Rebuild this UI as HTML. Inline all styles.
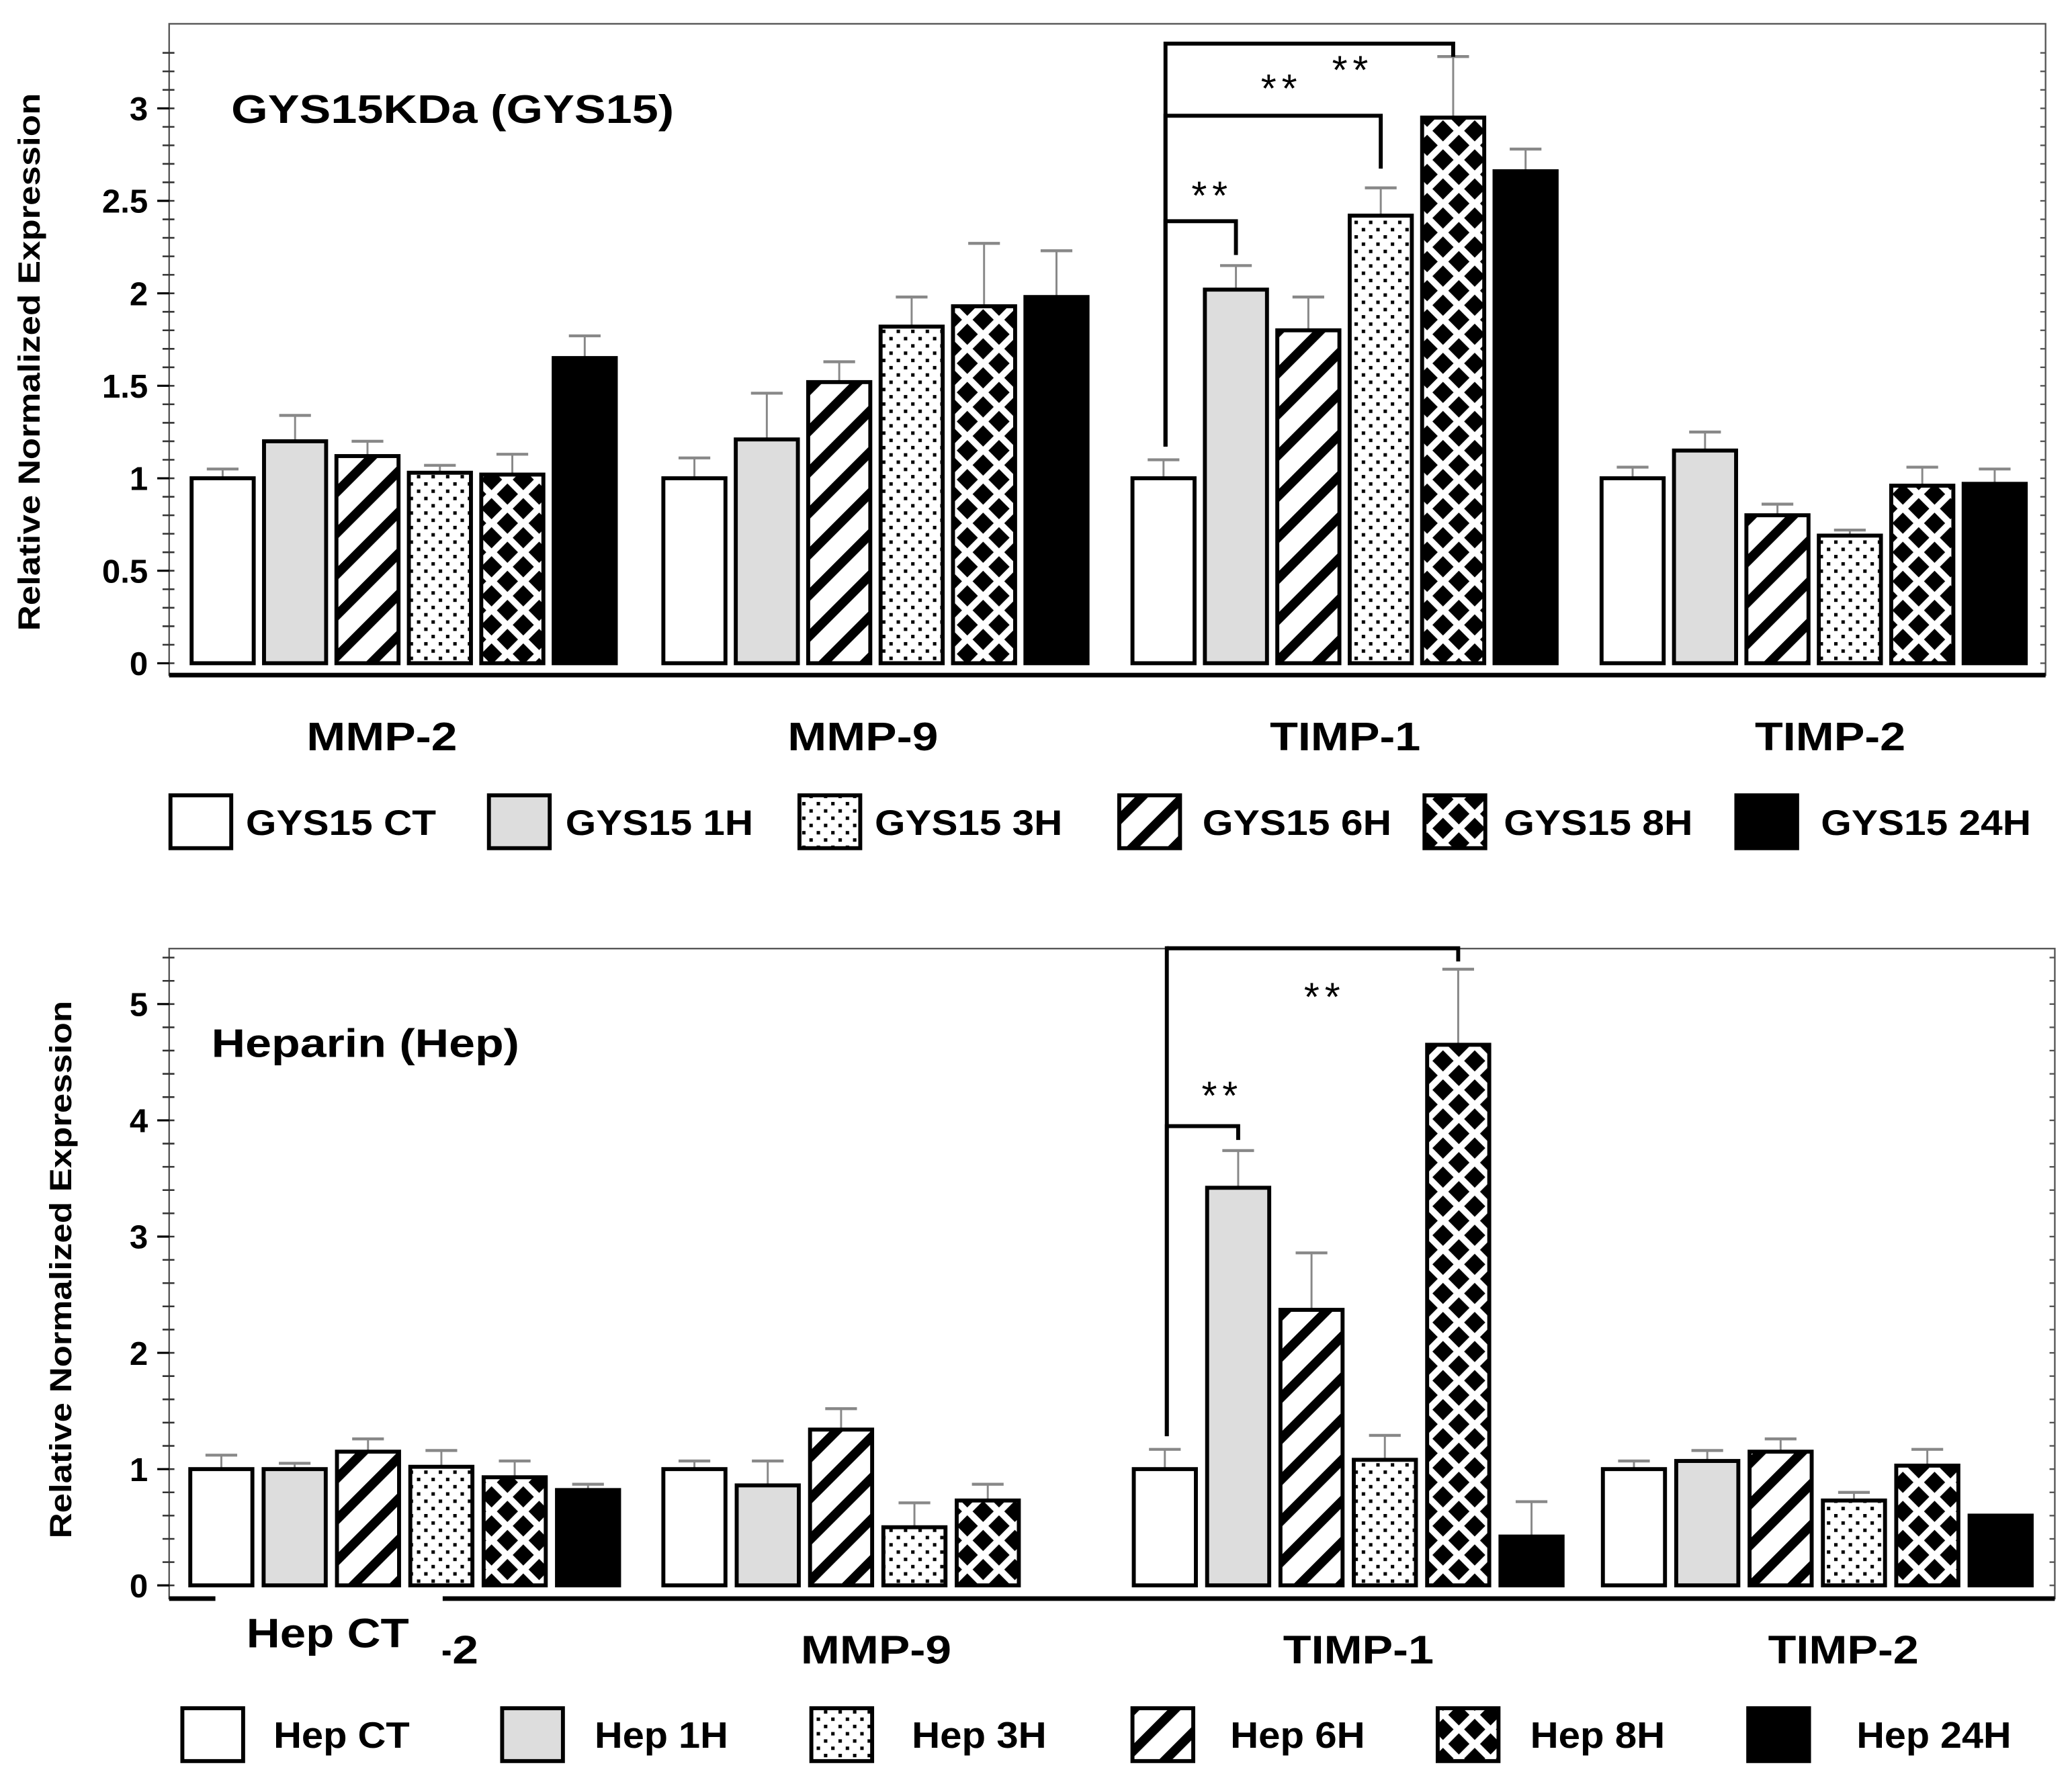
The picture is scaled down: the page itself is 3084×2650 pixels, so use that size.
<!DOCTYPE html>
<html><head><meta charset="utf-8"><style>
html,body{margin:0;padding:0;background:#fff}
svg{display:block}
text{font-family:"Liberation Sans",Arial,sans-serif;font-weight:bold;fill:#000}
</style></head><body>
<svg id="fig" xmlns="http://www.w3.org/2000/svg" width="3084" height="2650" viewBox="0 0 1568 1347.3">
<defs>
<pattern id="pStripe" patternUnits="userSpaceOnUse" width="22" height="22" patternTransform="rotate(45)"><rect width="22" height="22" fill="#fff"/><rect x="0" y="0" width="7" height="22" fill="#000"/></pattern>
<pattern id="pDots" patternUnits="userSpaceOnUse" width="11" height="11"><rect width="11" height="11" fill="#fff"/><rect x="2" y="2" width="2.6" height="2.6" fill="#000"/><rect x="7.5" y="7.5" width="2.6" height="2.6" fill="#000"/></pattern>
<pattern id="pDiam" patternUnits="userSpaceOnUse" width="24" height="22"><rect width="24" height="22" fill="#fff"/><polygon points="12,3 20,11 12,19 4,11" fill="#000"/><polygon points="0,-8 8,0 0,8 -8,0" fill="#000"/><polygon points="24,-8 32,0 24,8 16,0" fill="#000"/><polygon points="0,14 8,22 0,30 -8,22" fill="#000"/><polygon points="24,14 32,22 24,30 16,22" fill="#000"/></pattern>
</defs>
<g id="top"></g>
<g id="bot"></g>
</svg>
<script>
// ---- data ----
const categories = ["MMP-2","MMP-9","TIMP-1","TIMP-2"];
const seriesTop = ["GYS15 CT","GYS15 1H","GYS15 6H","GYS15 3H","GYS15 8H","GYS15 24H"];
const seriesBot = ["Hep CT","Hep 1H","Hep 6H","Hep 3H","Hep 8H","Hep 24H"];
// values per category (order: CT,1H,6H,3H,8H,24H)
const topValues = [[1.0,1.2,1.12,1.03,1.02,1.65],[1.0,1.21,1.52,1.82,1.93,1.98],[1.0,2.02,1.8,2.42,2.95,2.66],[1.0,1.15,0.8,0.69,0.96,0.97]];
const topErrTop = [[1.05,1.34,1.2,1.07,1.13,1.77],[1.11,1.46,1.63,1.98,2.27,2.23],[1.1,2.15,1.98,2.57,3.28,2.78],[1.06,1.25,0.86,0.72,1.06,1.05]];
const botValues = [[1.0,1.0,1.15,1.02,0.93,0.82],[1.0,0.86,1.34,0.5,0.73,null],[1.0,3.42,2.37,1.08,4.65,0.42],[1.0,1.07,1.15,0.73,1.03,0.6]];
const botErrTop = [[1.12,1.05,1.26,1.16,1.07,0.87],[1.07,1.07,1.52,0.71,0.87,null],[1.17,3.74,2.86,1.29,5.3,0.72],[1.07,1.16,1.26,0.8,1.17,0.6]];
const topTicks = [0,0.5,1,1.5,2,2.5,3];
const topTickLabels = ["0","0.5","1","1.5","2","2.5","3"];
const botTicks = [0,1,2,3,4,5];
const botTickLabels = ["0","1","2","3","4","5"];
const legendTop = ["GYS15 CT","GYS15 1H","GYS15 3H","GYS15 6H","GYS15 8H","GYS15 24H"];
const legendBot = ["Hep CT","Hep 1H","Hep 3H","Hep 6H","Hep 8H","Hep 24H"];
// significance brackets [category index, target bar index, bracket level value]
const topSig = [[2,1,2.39],[2,3,2.96],[2,4,3.35]];
const botSig = [[2,1,3.95],[2,4,5.48]];
// star label values (y value) per bracket
const topStarVal = [2.54,3.12,3.22];
const botStarVal = [4.23,5.08];

const fills = ["#fff","#ddd","url(#pStripe)","url(#pDots)","url(#pDiam)","#000"];
const legendFills = ["#fff","#ddd","url(#pDots)","url(#pStripe)","url(#pDiam)","#000"];
const NS="http://www.w3.org/2000/svg";
function mk(parent,tag,attrs,txt){const e=document.createElementNS(NS,tag);for(const k in attrs)e.setAttribute(k,attrs[k]);if(txt!==undefined)e.textContent=txt;parent.appendChild(e);return e;}

function drawChart(g,cfg){
  const y=v=>cfg.y0-v*cfg.unit;
  const x=(ci,bi)=>cfg.gx[ci]+bi*cfg.step;
  let f=mk(g,'rect',{x:cfg.left,y:cfg.top,width:cfg.right-cfg.left,height:cfg.axisY-cfg.top,fill:'none',stroke:'#555','stroke-width':1.2});
  
  
  let ax=mk(g,'line',{x1:cfg.left,x2:cfg.right,y1:cfg.axisY,y2:cfg.axisY,stroke:'#000','stroke-width':3.5});
  
  
  for(let v=0;v<=cfg.max+1e-9;v+=cfg.minor){
    const yy=y(v);
    mk(g,'line',{x1:cfg.left-5,x2:cfg.left+4,y1:yy,y2:yy,stroke:'#333','stroke-width':1.3});
    mk(g,'line',{x1:cfg.right-4,x2:cfg.right,y1:yy,y2:yy,stroke:'#555','stroke-width':1.2});
  }
  cfg.ticks.forEach((v,i)=>{
    mk(g,'line',{x1:cfg.left-9,x2:cfg.left,y1:y(v),y2:y(v),stroke:'#000','stroke-width':1.6});
    const t=mk(g,'text',{x:cfg.left-16,y:y(v)+9,'text-anchor':'end','font-size':25},cfg.tickLabels[i]);
    
    
  });
  const yl=mk(g,'text',{transform:`translate(${cfg.ylX},${cfg.ylY}) rotate(-90)`,'text-anchor':'middle','font-size':23,textLength:407,lengthAdjust:'spacingAndGlyphs'},'Relative Normalized Expression');
  
  
  const ti=mk(g,'text',{x:cfg.titleX,y:cfg.titleY,'font-size':30,textLength:cfg.titleLen,lengthAdjust:'spacingAndGlyphs'},cfg.title);
  
  
  cfg.values.forEach((row,ci)=>{
    row.forEach((v,bi)=>{
      if(v===null)return;
      const bx=x(ci,bi);
      const e=cfg.err[ci][bi];
      if(e!==null && e>v){
        const cx=bx+cfg.bw/2;
        mk(g,'line',{x1:cx,x2:cx,y1:y(v),y2:y(e),stroke:'#888','stroke-width':1.5});
        mk(g,'line',{x1:cx-12,x2:cx+12,y1:y(e),y2:y(e),stroke:'#888','stroke-width':2.2});
      }
      const r=mk(g,'rect',{x:bx,y:y(v),width:cfg.bw,height:v*cfg.unit,fill:fills[bi],stroke:'#000','stroke-width':3});
      
      
    });
    const cl=mk(g,'text',{x:cfg.catX[ci],y:cfg.catY,'text-anchor':'middle','font-size':30,textLength:114,lengthAdjust:'spacingAndGlyphs'},categories[ci]);
    
    
  });
  cfg.sig.forEach((s,k)=>{
    const x0=x(s[0],0)+cfg.bw/2+1.5;
    const x1=x(s[0],s[1])+cfg.bw/2;
    const yb=y(s[2]);
    const ye=y(cfg.err[s[0]][s[1]])-8;
    mk(g,'line',{x1:x0,x2:x0,y1:y(cfg.err[s[0]][0])-10,y2:yb-1.5,stroke:'#000','stroke-width':3});
    const p=mk(g,'polyline',{points:`${x0},${yb} ${x1},${yb} ${x1},${Math.max(yb+10,Math.min(ye,yb+40))}`,fill:'none',stroke:'#000','stroke-width':3});
    
    
    const st=mk(g,'text',{x:x1+cfg.starDx[k],y:y(cfg.starVal[k])+12,'text-anchor':'middle','font-size':30,style:'font-weight:normal;letter-spacing:4px'},'**');
    
    
  });
  cfg.legend.forEach((lab,i)=>{
    const lg=mk(g,'g',{});
    
    
    mk(lg,'rect',{x:cfg.legBox[i],y:cfg.legY-20,width:46,height:40,fill:legendFills[i],stroke:'#000','stroke-width':3});
    mk(lg,'text',{x:cfg.legText[i],y:cfg.legY+10,'font-size':cfg.legFont,textLength:cfg.legLen[i],lengthAdjust:'spacingAndGlyphs'},lab);
  });
}

drawChart(document.getElementById('top'),{
  left:128,right:1548,top:18,axisY:511,y0:502,unit:140,max:3.3,minor:0.1,
  ticks:topTicks,tickLabels:topTickLabels,ylX:30,ylY:274,title:'GYS15KDa (GYS15)',titleX:175,titleY:93,titleLen:335,
  values:topValues,err:topErrTop,gx:[145,502,857,1212],step:54.8,bw:47,catX:[289,653,1018,1385],catY:568,sig:topSig,starVal:topStarVal,starDx:[-18,-75,-76],
  legend:legendTop,legY:622,legBox:[129,370,605,847,1078,1314],legText:[186,428,662,910,1138,1378],legLen:[144,142,142,143,143,159],legFont:27
});
drawChart(document.getElementById('bot'),{
  left:128,right:1555,top:718,axisY:1210,y0:1200,unit:88,max:5.4,minor:0.2,
  ticks:botTicks,tickLabels:botTickLabels,ylX:54,ylY:961,title:'Heparin (Hep)',titleX:160,titleY:800,titleLen:233,
  values:botValues,err:botErrTop,gx:[144,502,858,1213],step:55.5,bw:47,catX:[305,663,1028,1395],catY:1259,sig:botSig,starVal:botStarVal,starDx:[-12,-101],
  legend:legendBot,legY:1313,legBox:[138,380,614,857,1088,1323],legText:[207,450,690,931,1158,1405],legLen:[103,101,102,102,102,117],legFont:28
});
const bot=document.getElementById('bot');
const ov=mk(bot,'rect',{x:163,y:1208,width:172,height:52,fill:'#fff'});


const ovt=mk(bot,'text',{x:248,y:1247,'text-anchor':'middle','font-size':31,textLength:123,lengthAdjust:'spacingAndGlyphs'},'Hep CT');


</script>
</body></html>
